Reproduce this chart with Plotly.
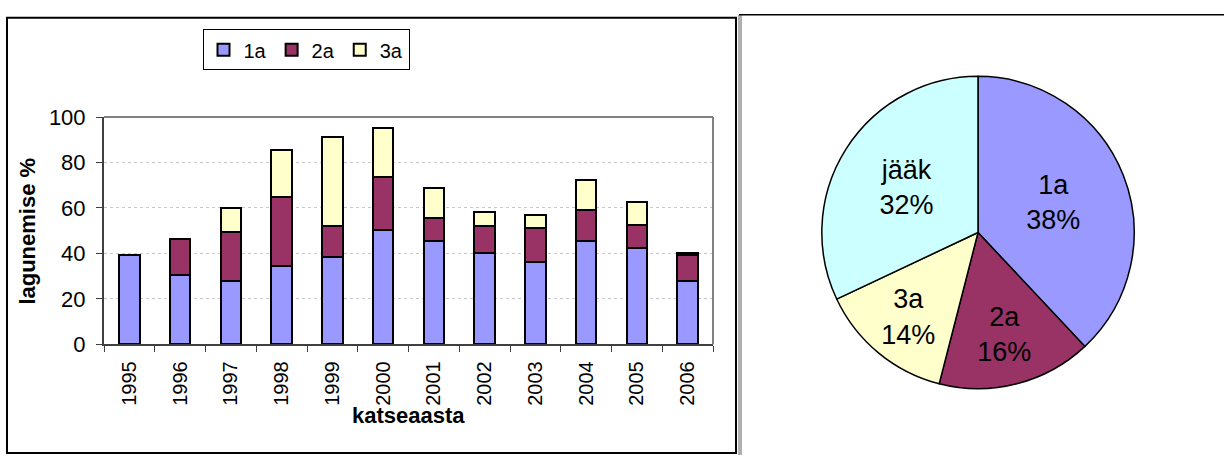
import plotly.graph_objects as go

W, H = 1224, 468

years = ["1995", "1996", "1997", "1998", "1999", "2000",
         "2001", "2002", "2003", "2004", "2005", "2006"]
s1a = [39.3, 30.5, 28.0, 34.4, 38.4, 50.3, 45.6, 40.0, 36.0, 45.5, 42.3, 28.0]
s2a = [0.0, 15.9, 21.4, 30.3, 13.5, 23.2, 9.8, 11.9, 15.0, 13.6, 10.4, 11.3]
s3a = [0.0, 0.0, 10.6, 20.9, 39.3, 21.8, 13.5, 6.5, 5.8, 13.0, 9.9, 0.7]

pie_labels = ["1a", "2a", "3a", "jääk"]
pie_values = [38, 16, 14, 32]

c1, c2, c3, c4 = "#9999FF", "#993366", "#FFFFCC", "#CCFFFF"
FONT = "Liberation Sans, Arial, sans-serif"
NARROW = "Liberation Sans Narrow, Arial Narrow, Liberation Sans, Arial, sans-serif"


def px(x):
    return x / W


def py(y):
    return 1 - y / H


fig = go.Figure()
for name, vals, col in [("1a", s1a, c1), ("2a", s2a, c2), ("3a", s3a, c3)]:
    fig.add_trace(go.Bar(
        x=years, y=vals, name=name,
        marker=dict(color=col, line=dict(color="black", width=2)),
        xaxis="x", yaxis="y",
    ))

fig.add_trace(go.Pie(
    labels=pie_labels, values=pie_values, sort=False, direction="clockwise",
    rotation=0,
    marker=dict(colors=[c1, c2, c3, c4], line=dict(color="black", width=1.5)),
    textinfo="label+percent", textposition="inside",
    insidetextorientation="horizontal",
    textfont=dict(family=NARROW, size=27, color="black"),
    domain=dict(x=[px(813), px(1143)], y=[py(398), py(68)]),
    showlegend=False, hoverinfo="label+percent",
))

fig.update_layout(
    width=W, height=H,
    margin=dict(l=0, r=0, t=0, b=0),
    paper_bgcolor="white", plot_bgcolor="white",
    barmode="stack", bargap=0.6,
    font=dict(family=FONT, color="black"),
    xaxis=dict(
        domain=[px(104), px(713)], anchor="y",
        type="category", tickangle=-90,
        tickfont=dict(size=20), tickson="boundaries",
        ticks="outside", ticklen=6, tickcolor="#404040",
        ticklabelstandoff=7,
        showline=True, linecolor="#404040", linewidth=2,
        showgrid=False,
    ),
    yaxis=dict(
        domain=[py(351), py(111)], anchor="x",
        range=[0, 100], dtick=20,
        tickfont=dict(size=22),
        ticks="outside", ticklen=6, tickcolor="#404040",
        ticklabelstandoff=6,
        showline=True, linecolor="#404040", linewidth=2,
        showgrid=True, gridcolor="#C8C8C8", griddash="dot", gridwidth=1,
        zeroline=False,
    ),
    legend=dict(
        orientation="h", x=px(306), y=py(40), xanchor="center", yanchor="middle",
        bordercolor="black", borderwidth=1, bgcolor="white",
        font=dict(size=20), traceorder="normal",
        itemwidth=30,
    ),
    annotations=[
        dict(text="<b>katseaasta</b>", x=px(408), y=py(426), xref="paper", yref="paper",
             showarrow=False, font=dict(size=22), xanchor="center", yanchor="middle"),
        dict(text="<b>lagunemise %</b>", x=px(28), y=py(232), xref="paper", yref="paper",
             showarrow=False, font=dict(size=22), textangle=-90,
             xanchor="center", yanchor="middle"),
    ],
    shapes=[
        dict(type="line", xref="paper", yref="paper", x0=px(104), x1=px(713),
             y0=py(111), y1=py(111), line=dict(color="#808080", width=2)),
        dict(type="line", xref="paper", yref="paper", x0=px(713), x1=px(713),
             y0=py(111), y1=py(351), line=dict(color="#808080", width=2)),
        dict(type="rect", xref="paper", yref="paper", x0=px(7), x1=px(736),
             y0=py(466), y1=py(6), line=dict(color="black", width=2)),
        dict(type="line", xref="paper", yref="paper", x0=px(739), x1=px(739),
             y0=py(3), y1=py(468), line=dict(color="#606060", width=1)),
        dict(type="line", xref="paper", yref="paper", x0=px(741), x1=px(741),
             y0=py(3), y1=py(468), line=dict(color="#606060", width=1)),
        dict(type="line", xref="paper", yref="paper", x0=px(739), x1=px(1224),
             y0=py(3), y1=py(3), line=dict(color="black", width=1.5)),
    ],
)

fig.write_html("out.html")
